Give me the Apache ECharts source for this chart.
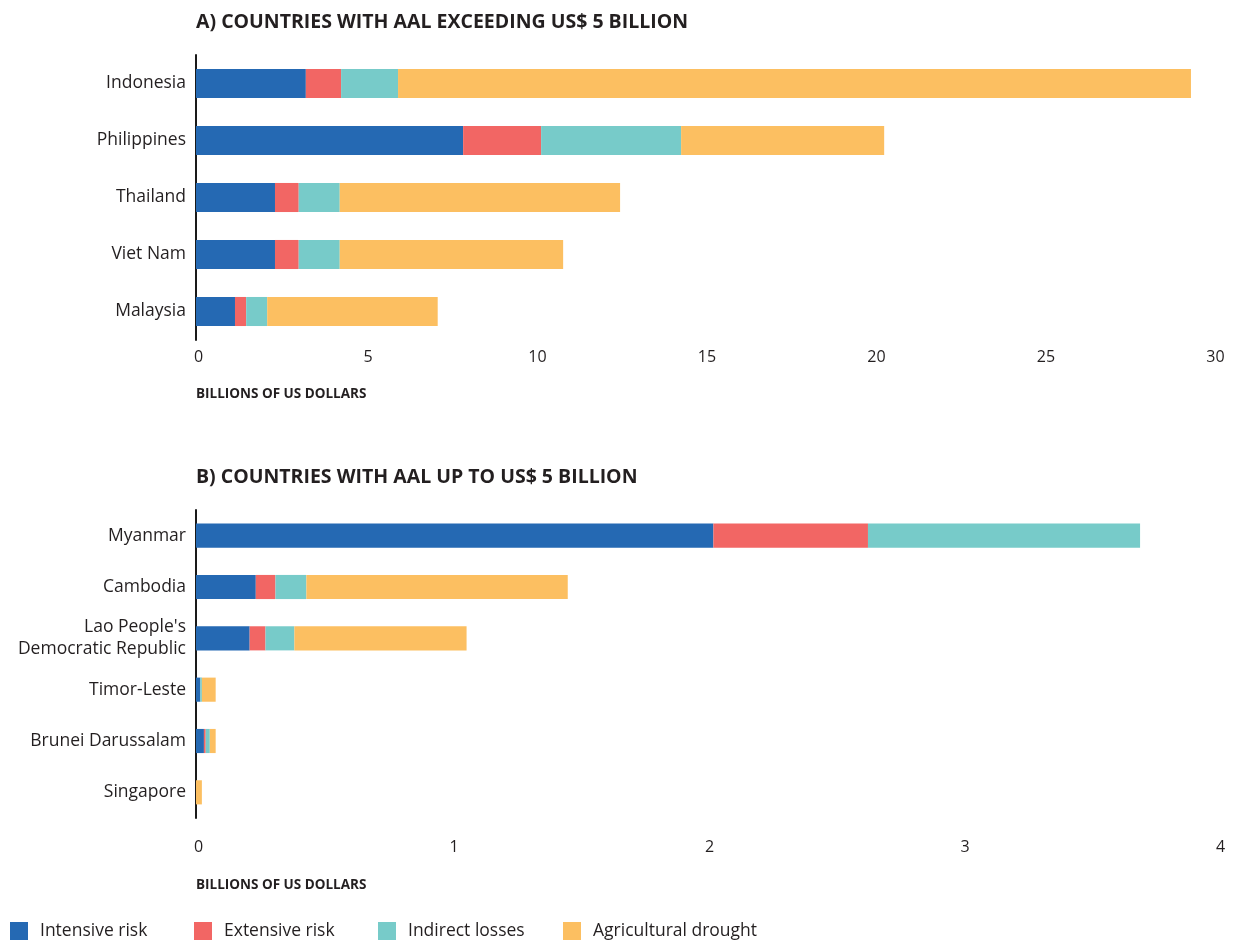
<!DOCTYPE html>
<html>
<head>
<meta charset="utf-8">
<script src="https://cdn.jsdelivr.net/npm/echarts@6/dist/echarts.min.js"></script>
<style>
  html, body { margin: 0; padding: 0; background: #fff; }
  #chart { width: 1237px; height: 943px; }
</style>
</head>
<body>
<div id="chart"></div>
<script>
// Panel A: countries with average annual loss above US$ 5 billion
const catsA = ['Indonesia', 'Philippines', 'Thailand', 'Viet Nam', 'Malaysia'];
const intensiveA = [3.24, 7.88, 2.33, 2.33, 1.15];
const extensiveA = [1.04, 2.30, 0.70, 0.70, 0.33];
const indirectA  = [1.68, 4.13, 1.21, 1.21, 0.62];
const droughtA   = [23.39, 5.99, 8.27, 6.59, 5.03];
const ticksA = { min: 0, max: 30, interval: 5 };

// Panel B: countries with average annual loss up to US$ 5 billion
const catsB = ['Myanmar', 'Cambodia', "Lao People's\nDemocratic Republic", 'Timor-Leste', 'Brunei Darussalam', 'Singapore'];
const intensiveB = [2.025, 0.234, 0.210, 0.017, 0.031, 0];
const extensiveB = [0.605, 0.077, 0.062, 0, 0.007, 0];
const indirectB  = [1.065, 0.121, 0.113, 0.006, 0.016, 0];
const droughtB   = [0, 1.023, 0.674, 0.054, 0.023, 0.023];
const ticksB = { min: 0, max: 4, interval: 1 };

const seriesNames = ['Intensive risk', 'Extensive risk', 'Indirect losses', 'Agricultural drought'];
const colors = ['#2569B3', '#F26664', '#77CBC9', '#FCBF61'];

const FONT = '"Open Sans", "Noto Sans", sans-serif';
const TEXT = '#231F20';

function barSeries(values, idx, axisIdx, width) {
  return {
    name: seriesNames[idx],
    type: 'bar',
    stack: 'panel' + axisIdx,
    xAxisIndex: axisIdx,
    yAxisIndex: axisIdx,
    barWidth: width,
    itemStyle: { color: colors[idx] },
    emphasis: { disabled: true },
    data: values
  };
}

function valueAxis(gridIndex, t, margin) {
  return {
    type: 'value',
    gridIndex: gridIndex,
    min: t.min, max: t.max, interval: t.interval,
    axisLine: { show: false },
    axisTick: { show: false },
    splitLine: { show: false },
    axisLabel: { color: TEXT, fontFamily: FONT, fontSize: 16, margin: margin, padding: [0, 0, 0, 5] }
  };
}

function categoryAxis(gridIndex, cats) {
  return {
    type: 'category',
    gridIndex: gridIndex,
    inverse: true,
    data: cats,
    axisLine: { show: true, lineStyle: { color: '#1a1a1a', width: 2 } },
    axisTick: { show: false },
    axisLabel: { color: TEXT, fontFamily: FONT, fontSize: 17.5, margin: 10, align: 'right', lineHeight: 22 }
  };
}

function headText(text, y, size) {
  return {
    type: 'text',
    style: { x: 196, y: y, text: text, fill: TEXT, font: 'bold ' + size + 'px ' + FONT, verticalAlign: 'middle' }
  };
}

// one legend per entry so every key sits on a fixed column
const legendLefts = [10, 194, 378, 563];
const legends = seriesNames.map((name, i) => ({
  left: legendLefts[i], top: 922, padding: 0,
  icon: 'rect', itemWidth: 18, itemHeight: 18,
  textStyle: { color: TEXT, fontFamily: FONT, fontSize: 17.5, padding: [0, 0, 0, 7] },
  data: [name],
  selectedMode: false
}));

const chart = echarts.init(document.getElementById('chart'), null, { renderer: 'canvas' });
chart.setOption({
  animation: false,
  backgroundColor: '#fff',
  color: colors,
  grid: [
    { left: 196, right: 24, top: 55, height: 285, containLabel: false },
    { left: 196, right: 19, top: 510, height: 308, containLabel: false }
  ],
  xAxis: [valueAxis(0, ticksA, 9), valueAxis(1, ticksB, 21)],
  yAxis: [categoryAxis(0, catsA), categoryAxis(1, catsB)],
  legend: legends,
  graphic: [
    headText('A) COUNTRIES WITH AAL EXCEEDING US$ 5 BILLION', 22, 19.5),
    headText('BILLIONS OF US DOLLARS', 394, 13.5),
    headText('B) COUNTRIES WITH AAL UP TO US$ 5 BILLION', 477, 19.5),
    headText('BILLIONS OF US DOLLARS', 885, 13.5)
  ],
  series: [
    barSeries(intensiveA, 0, 0, '51%'),
    barSeries(extensiveA, 1, 0, '51%'),
    barSeries(indirectA, 2, 0, '51%'),
    barSeries(droughtA, 3, 0, '51%'),
    barSeries(intensiveB, 0, 1, '47%'),
    barSeries(extensiveB, 1, 1, '47%'),
    barSeries(indirectB, 2, 1, '47%'),
    barSeries(droughtB, 3, 1, '47%')
  ]
});
</script>
</body>
</html>
